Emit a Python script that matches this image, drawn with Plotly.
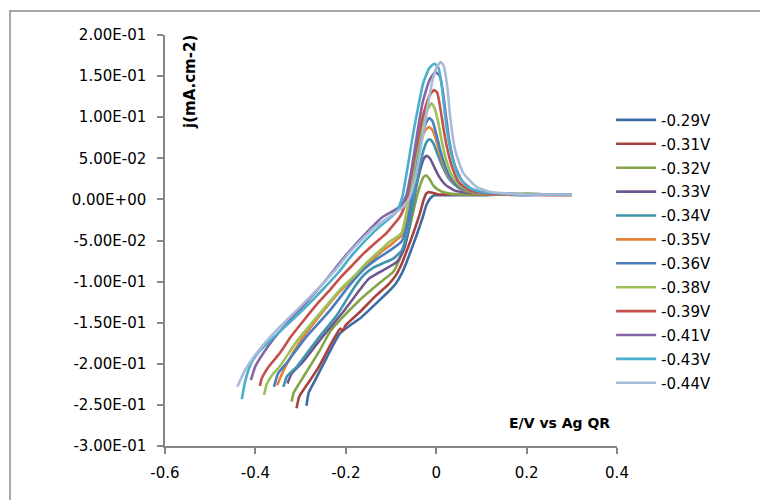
import plotly.graph_objects as go

# ---------------- data ----------------
series_names = ["-0.29V", "-0.31V", "-0.32V", "-0.33V", "-0.34V", "-0.35V",
                "-0.36V", "-0.38V", "-0.39V", "-0.41V", "-0.43V", "-0.44V"]
series_colors = ["#3F6BA4", "#A8423F", "#86A44A", "#6E5790", "#3F95AE", "#E3823A",
                 "#4A7EBE", "#9DC159", "#C4504C", "#8466A8", "#4BAFCB", "#A7BBD9"]

x_029 = [-0.287, -0.282, -0.264, -0.240, -0.213, -0.190, -0.169, -0.130, -0.105, -0.090, -0.077,
         -0.066, -0.055, -0.043, -0.030, -0.021, -0.012, -0.004, 0.010, 0.050, 0.100, 0.150,
         0.200, 0.250, 0.300]
y_029 = [-0.251, -0.235, -0.216, -0.190, -0.163, -0.153, -0.145, -0.125, -0.112, -0.103, -0.091,
         -0.077, -0.061, -0.043, -0.022, -0.006, 0.002, 0.005, 0.005, 0.005, 0.005, 0.006,
         0.005, 0.006, 0.006]

x_031 = [-0.309, -0.303, -0.279, -0.261, -0.228, -0.212, -0.207, -0.200, -0.169, -0.135, -0.105,
         -0.090, -0.076, -0.062, -0.050, -0.036, -0.028, -0.022, -0.016, -0.008, 0.005, 0.030,
         0.100, 0.150, 0.200, 0.250, 0.300]
y_031 = [-0.254, -0.240, -0.220, -0.205, -0.171, -0.157, -0.160, -0.153, -0.137, -0.118, -0.103,
         -0.093, -0.078, -0.058, -0.040, -0.017, -0.001, 0.007, 0.009, 0.008, 0.006, 0.006,
         0.006, 0.006, 0.006, 0.005, 0.005]

x_032 = [-0.320, -0.315, -0.294, -0.257, -0.235, -0.213, -0.176, -0.150, -0.117, -0.095, -0.076,
         -0.064, -0.055, -0.043, -0.035, -0.028, -0.022, -0.015, -0.005, 0.010, 0.030, 0.060,
         0.100, 0.150, 0.200, 0.250, 0.300]
y_032 = [-0.246, -0.235, -0.216, -0.183, -0.161, -0.147, -0.126, -0.113, -0.098, -0.088, -0.066,
         -0.045, -0.025, 0.003, 0.018, 0.027, 0.029, 0.025, 0.016, 0.010, 0.007, 0.006,
         0.006, 0.006, 0.007, 0.006, 0.006]

x_033 = [-0.329, -0.320, -0.294, -0.250, -0.206, -0.169, -0.150, -0.117, -0.087, -0.072, -0.062,
         -0.054, -0.046, -0.036, -0.027, -0.021, -0.014, -0.005, 0.006, 0.020, 0.040, 0.070,
         0.100, 0.150, 0.200, 0.250, 0.300]
y_033 = [-0.224, -0.212, -0.197, -0.166, -0.137, -0.110, -0.097, -0.086, -0.076, -0.062, -0.040,
         -0.015, 0.010, 0.035, 0.050, 0.053, 0.050, 0.040, 0.028, 0.018, 0.011, 0.008,
         0.007, 0.006, 0.006, 0.006, 0.006]

x_034 = [-0.338, -0.330, -0.309, -0.264, -0.220, -0.180, -0.160, -0.139, -0.115, -0.095, -0.076,
         -0.066, -0.058, -0.050, -0.040, -0.028, -0.020, -0.014, -0.006, 0.003, 0.014, 0.026,
         0.040, 0.060, 0.090, 0.130, 0.200, 0.250, 0.300]
y_034 = [-0.228, -0.215, -0.204, -0.171, -0.141, -0.106, -0.092, -0.083, -0.077, -0.072, -0.062,
         -0.045, -0.025, 0.000, 0.030, 0.060, 0.071, 0.073, 0.068, 0.055, 0.040, 0.027,
         0.018, 0.011, 0.008, 0.007, 0.006, 0.006, 0.006]

x_035 = [-0.352, -0.335, -0.300, -0.260, -0.215, -0.185, -0.150, -0.120, -0.100, -0.085, -0.076,
         -0.066, -0.058, -0.047, -0.034, -0.024, -0.016, -0.008, 0.000, 0.010, 0.020, 0.032,
         0.050, 0.075, 0.100, 0.150, 0.200, 0.250, 0.300]
y_035 = [-0.226, -0.205, -0.172, -0.143, -0.113, -0.097, -0.078, -0.063, -0.055, -0.048, -0.044,
         -0.025, 0.000, 0.035, 0.070, 0.084, 0.088, 0.084, 0.072, 0.052, 0.036, 0.024,
         0.014, 0.009, 0.007, 0.006, 0.006, 0.006, 0.006]

x_036 = [-0.359, -0.350, -0.331, -0.287, -0.235, -0.191, -0.160, -0.130, -0.102, -0.076, -0.062,
         -0.055, -0.045, -0.032, -0.022, -0.015, -0.008, 0.000, 0.010, 0.020, 0.032, 0.050,
         0.075, 0.100, 0.150, 0.200, 0.250, 0.300]
y_036 = [-0.228, -0.212, -0.199, -0.167, -0.135, -0.104, -0.085, -0.072, -0.062, -0.051, -0.025,
         0.000, 0.035, 0.075, 0.094, 0.099, 0.095, 0.080, 0.058, 0.040, 0.026, 0.015,
         0.010, 0.008, 0.006, 0.006, 0.006, 0.006]

x_038 = [-0.381, -0.375, -0.362, -0.346, -0.309, -0.264, -0.213, -0.183, -0.150, -0.120, -0.102,
         -0.085, -0.076, -0.069, -0.062, -0.050, -0.035, -0.022, -0.010, -0.003, 0.004, 0.012,
         0.022, 0.033, 0.050, 0.070, 0.100, 0.150, 0.200, 0.250, 0.300]
y_038 = [-0.238, -0.225, -0.213, -0.203, -0.173, -0.143, -0.110, -0.094, -0.075, -0.060, -0.051,
         -0.045, -0.040, -0.025, -0.005, 0.035, 0.080, 0.106, 0.117, 0.110, 0.095, 0.072,
         0.048, 0.031, 0.018, 0.011, 0.008, 0.006, 0.006, 0.006, 0.006]

x_039 = [-0.390, -0.386, -0.370, -0.346, -0.320, -0.287, -0.260, -0.235, -0.210, -0.180, -0.161,
         -0.135, -0.110, -0.090, -0.080, -0.068, -0.058, -0.045, -0.030, -0.015, -0.005, 0.002,
         0.010, 0.018, 0.026, 0.036, 0.050, 0.070, 0.100, 0.150, 0.200, 0.250, 0.300]
y_039 = [-0.227, -0.218, -0.203, -0.187, -0.166, -0.143, -0.125, -0.110, -0.094, -0.077, -0.066,
         -0.053, -0.041, -0.028, -0.021, -0.005, 0.020, 0.060, 0.100, 0.126, 0.133, 0.130,
         0.108, 0.080, 0.058, 0.038, 0.021, 0.012, 0.008, 0.006, 0.006, 0.006, 0.006]

x_041 = [-0.410, -0.400, -0.380, -0.350, -0.300, -0.250, -0.200, -0.150, -0.120, -0.095, -0.078,
         -0.066, -0.055, -0.042, -0.030, -0.015, -0.002, 0.008, 0.015, 0.022, 0.030, 0.042,
         0.058, 0.080, 0.110, 0.160, 0.200, 0.250, 0.300]
y_041 = [-0.220, -0.203, -0.185, -0.163, -0.133, -0.102, -0.068, -0.038, -0.022, -0.014, -0.008,
         0.005, 0.035, 0.080, 0.118, 0.145, 0.155, 0.150, 0.130, 0.100, 0.068, 0.040,
         0.022, 0.012, 0.008, 0.007, 0.006, 0.006, 0.006]

x_043 = [-0.430, -0.423, -0.410, -0.390, -0.360, -0.300, -0.250, -0.215, -0.185, -0.135, -0.095,
         -0.085, -0.075, -0.063, -0.051, -0.040, -0.029, -0.015, -0.004, 0.005, 0.012, 0.020,
         0.028, 0.038, 0.050, 0.070, 0.100, 0.150, 0.200, 0.250, 0.300]
y_043 = [-0.243, -0.222, -0.200, -0.184, -0.168, -0.137, -0.109, -0.088, -0.067, -0.038, -0.019,
         -0.012, 0.003, 0.040, 0.080, 0.112, 0.141, 0.160, 0.165, 0.160, 0.140, 0.100,
         0.070, 0.046, 0.028, 0.015, 0.009, 0.007, 0.006, 0.006, 0.006]

x_044 = [-0.440, -0.423, -0.397, -0.360, -0.309, -0.257, -0.220, -0.191, -0.139, -0.095, -0.073,
         -0.058, -0.045, -0.032, -0.020, -0.008, 0.002, 0.010, 0.017, 0.025, 0.031, 0.042,
         0.060, 0.090, 0.119, 0.160, 0.200, 0.250, 0.300]
y_044 = [-0.228, -0.208, -0.187, -0.163, -0.135, -0.106, -0.084, -0.064, -0.035, -0.018, -0.009,
         0.003, 0.030, 0.070, 0.110, 0.145, 0.162, 0.167, 0.162, 0.135, 0.100, 0.060,
         0.032, 0.015, 0.009, 0.007, 0.006, 0.006, 0.006]

series_x = [x_029, x_031, x_032, x_033, x_034, x_035, x_036, x_038, x_039, x_041, x_043, x_044]
series_y = [y_029, y_031, y_032, y_033, y_034, y_035, y_036, y_038, y_039, y_041, y_043, y_044]

x_ticks = [-0.6, -0.4, -0.2, 0.0, 0.2, 0.4]
x_ticktext = ["-0.6", "-0.4", "-0.2", "0", "0.2", "0.4"]
y_ticks = [-0.3, -0.25, -0.2, -0.15, -0.1, -0.05, 0.0, 0.05, 0.1, 0.15, 0.2]
y_ticktext = [f"{v:.2E}" for v in y_ticks]

x_title = "E/V vs Ag QR"
y_title = "j(mA.cm-2)"

# ---------------- figure ----------------
FONT = "DejaVu Sans"
AXIS_GREY = "#868686"

fig = go.Figure()
for name, color, xs, ys in zip(series_names, series_colors, series_x, series_y):
    fig.add_trace(go.Scatter(
        x=xs, y=ys, name=name, mode="lines", legendgroup=name,
        line=dict(color=color, width=2.6, shape="spline", smoothing=0.5),
    ))

fig.update_layout(
    width=760, height=500,
    margin=dict(l=165, r=143, t=35, b=54),
    paper_bgcolor="white", plot_bgcolor="white",
    font=dict(family=FONT, size=15, color="#000000"),
    showlegend=True,
    legend=dict(
        x=0.987, xanchor="left", y=0.833, yanchor="top",
        font=dict(family=FONT, size=15, color="#000000"),
        traceorder="grouped", tracegroupgap=1.4,
        bgcolor="rgba(0,0,0,0)", borderwidth=0, itemwidth=40,
    ),
    xaxis=dict(
        range=[-0.6, 0.4], tickvals=x_ticks, ticktext=x_ticktext,
        showline=True, linecolor=AXIS_GREY, linewidth=1.5,
        ticks="outside", ticklen=6, tickcolor=AXIS_GREY, tickwidth=1.5,
        showgrid=False, zeroline=False, ticklabelstandoff=6,
        tickfont=dict(family=FONT, size=15, color="#000000"),
    ),
    yaxis=dict(
        range=[-0.3, 0.2], tickvals=y_ticks, ticktext=y_ticktext,
        showline=True, linecolor=AXIS_GREY, linewidth=1.5,
        ticks="outside", ticklen=6, tickcolor=AXIS_GREY, tickwidth=1.5,
        showgrid=False, zeroline=False, ticklabelstandoff=8,
        tickfont=dict(family=FONT, size=15, color="#000000"),
    ),
    annotations=[
        dict(text=f"<b>{y_title}</b>", xref="paper", yref="paper",
             x=(190 - 165) / 452, y=(446 - 82) / 411, textangle=-90,
             showarrow=False, font=dict(family=FONT, size=15, color="#000000"),
             xanchor="center", yanchor="middle"),
        dict(text=f"<b>{x_title}</b>", xref="paper", yref="paper",
             x=(559 - 165) / 452, y=(446 - 423) / 411,
             showarrow=False, font=dict(family=FONT, size=14, color="#000000"),
             xanchor="center", yanchor="middle"),
    ],
    shapes=[
        dict(type="rect", xref="paper", yref="paper",
             x0=(10 - 165) / 452, x1=(770 - 165) / 452,
             y0=(446 - 510) / 411, y1=(446 - 11) / 411,
             line=dict(color="#8C8C8C", width=1.5), fillcolor="rgba(0,0,0,0)",
             layer="below"),
    ],
)

fig.write_html("out.html")
